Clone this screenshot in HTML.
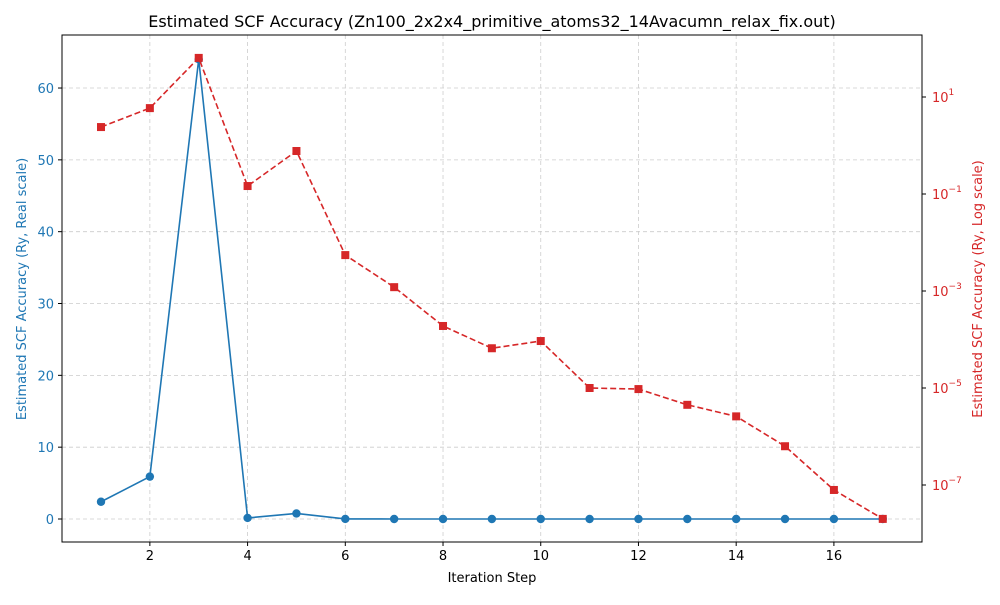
<!DOCTYPE html>
<html><head><meta charset="utf-8"><style>
body{margin:0;background:#fff;}
svg text{font-family:"DejaVu Sans","Liberation Sans",sans-serif;}
</style></head><body>
<svg id="chart" width="1000" height="600" xmlns="http://www.w3.org/2000/svg"></svg>
<script>
const steps=[1,2,3,4,5,6,7,8,9,10,11,12,13,14,15,16,17];
const accuracy=[2.4,5.9,64,0.146,0.77,0.0055,0.0012,1.9e-4,6.6e-5,9.3e-5,1e-5,9.5e-6,4.5e-6,2.6e-6,6.3e-7,7.9e-8,2e-8];
const xTicks=[2,4,6,8,10,12,14,16];
const yLeftTicks=[0,10,20,30,40,50,60];
const yRightExps=[1,-1,-3,-5,-7];
const NS="http://www.w3.org/2000/svg";
const svg=document.getElementById('chart');
const L=62,R=922,T=35,B=542;
const xs=v=>101+(v-1)*48.86;
const yl=v=>519-v*7.183;
const yr=v=>145.5-48.5*Math.log10(v);
function mk(tag,attrs,parent){const e=document.createElementNS(NS,tag);for(const k in attrs)e.setAttribute(k,attrs[k]);(parent||svg).appendChild(e);return e;}
function txt(x,y,s,attrs){const e=mk('text',Object.assign({x:x,y:y,'font-size':13,fill:'#000'},attrs||{}));e.textContent=s;return e;}
const grid=mk('g',{});


xTicks.forEach(t=>mk('line',{x1:xs(t),x2:xs(t),y1:T,y2:B,stroke:'#ccc','stroke-dasharray':'4,3','stroke-width':0.8},grid));
yLeftTicks.forEach(t=>mk('line',{x1:L,x2:R,y1:yl(t),y2:yl(t),stroke:'#ccc','stroke-dasharray':'4,3','stroke-width':0.8},grid));
const fr=mk('rect',{x:L,y:T,width:R-L,height:B-T,fill:'none',stroke:'#000','stroke-width':1});


xTicks.forEach(t=>{mk('line',{x1:xs(t),x2:xs(t),y1:B,y2:B+4,stroke:'#000'});
 const e=txt(xs(t),B+18,String(t),{'text-anchor':'middle'});
 
 });
yLeftTicks.forEach(t=>{mk('line',{x1:L-4,x2:L,y1:yl(t),y2:yl(t),stroke:'#000'});
 const e=txt(L-8,yl(t)+5,String(t),{'text-anchor':'end',fill:'#1f77b4'});
 
 });
yRightExps.forEach(ex=>{const y=yr(Math.pow(10,ex));
 mk('line',{x1:R,x2:R+4,y1:y,y2:y,stroke:'#000'});
 const e=mk('text',{x:R+10,y:y+5,'font-size':13,fill:'#d62728'});
 
 
 e.appendChild(document.createTextNode('10'));
 const s=mk('tspan',{dy:-7,'font-size':9},e);s.textContent=String(ex).replace('-','\u2212');});
const bl=mk('polyline',{points:steps.map((s,i)=>xs(s)+','+yl(accuracy[i])).join(' '),fill:'none',stroke:'#1f77b4','stroke-width':1.6});


steps.forEach((s,i)=>{const c=mk('circle',{cx:xs(s),cy:yl(accuracy[i]),r:4.2,fill:'#1f77b4'});
 
 });
const rl=mk('polyline',{points:steps.map((s,i)=>xs(s)+','+yr(accuracy[i])).join(' '),fill:'none',stroke:'#d62728','stroke-width':1.6,'stroke-dasharray':'6,3'});


steps.forEach((s,i)=>{const c=mk('rect',{x:xs(s)-4,y:yr(accuracy[i])-4,width:8,height:8,fill:'#d62728'});
 
 });
let e=txt(492,27,'Estimated SCF Accuracy (Zn100_2x2x4_primitive_atoms32_14Avacumn_relax_fix.out)',{'text-anchor':'middle','font-size':16});


e=txt(492,582,'Iteration Step',{'text-anchor':'middle'});


e=txt(0,0,'Estimated SCF Accuracy (Ry, Real scale)',{'text-anchor':'middle',fill:'#1f77b4',transform:'translate(26,289) rotate(-90)'});


e=txt(0,0,'Estimated SCF Accuracy (Ry, Log scale)',{'text-anchor':'middle',fill:'#d62728',transform:'translate(982,289) rotate(-90)'});


</script>
</body></html>
